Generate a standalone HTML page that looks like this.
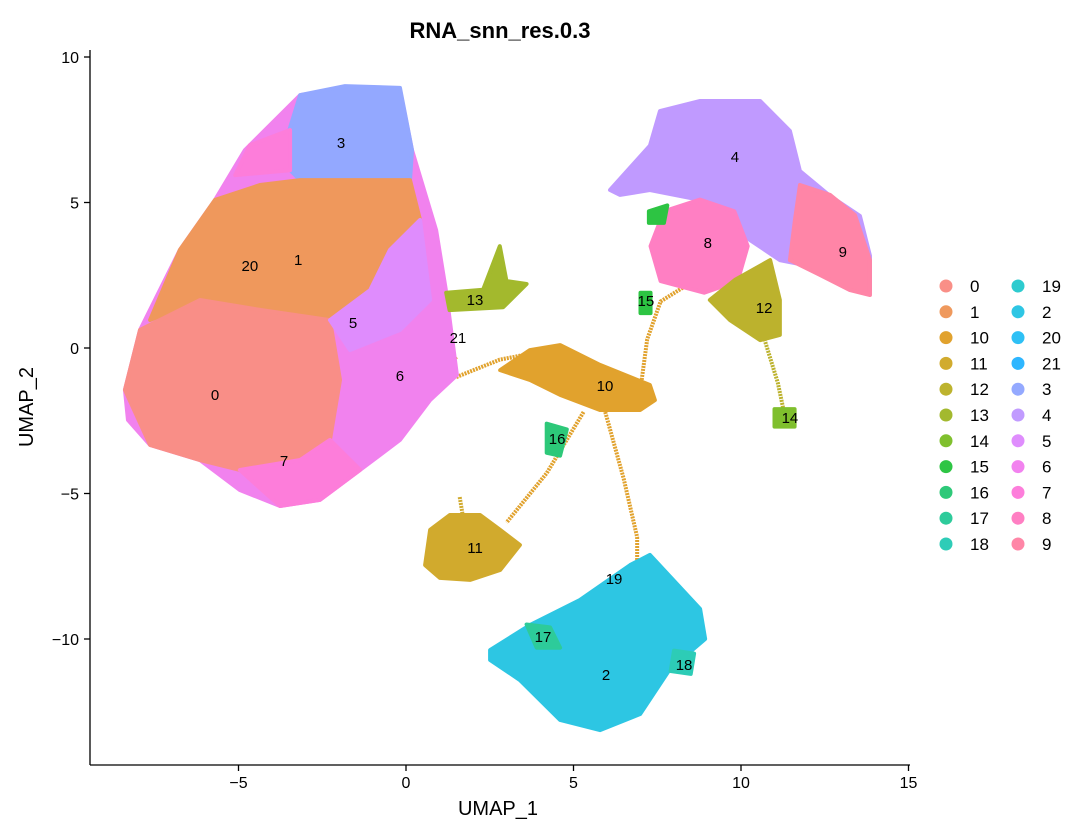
<!DOCTYPE html>
<html><head><meta charset="utf-8">
<style>
html,body{margin:0;padding:0;background:#fff;}
svg{display:block;font-family:"Liberation Sans",Arial,sans-serif;}
</style></head>
<body>
<svg id="chart" width="1080" height="830" viewBox="0 0 1080 830" xmlns="http://www.w3.org/2000/svg">
<text x="500" y="38" text-anchor="middle" font-size="22" font-weight="bold">RNA_snn_res.0.3</text>
<g id="plot"><g id="marks" opacity="0.82"></g></g>
<g id="axes"></g>
<g id="legend"></g>
</svg>
<script>
// ---- data ----
const levels = ["0","1","10","11","12","13","14","15","16","17","18","19","2","20","21","3","4","5","6","7","8","9"];
const xTicks = [-5,0,5,10,15];
const yTicks = [-10,-5,0,5,10];
const regionClusters = ["6","3","1","0","5","7","7","4","9","8","12","10","11","2","13","16","17","18","15","15","14"];
const regionShapes = [
 [[-8.39,-1.44],[-7.94,0.62],[-6.75,3.37],[-5.70,5.09],[-4.81,6.80],[-3.16,8.69],[-1.82,8.93],[-0.18,8.87],[0.18,6.80],[0.90,4.05],[1.19,1.99],[1.52,-0.93],[0.72,-1.79],[-0.18,-3.16],[-1.37,-4.19],[-2.57,-5.22],[-3.76,-5.43],[-4.96,-4.88],[-6.15,-3.85],[-7.64,-3.33],[-8.30,-2.47]],
 [[-3.16,8.69],[-1.82,9.0],[-0.18,8.94],[0.18,6.8],[0.12,5.77],[-1.37,5.6],[-3.16,5.77],[-3.76,6.46]],
 [[-6.75,3.37],[-5.70,5.09],[-4.36,5.6],[-3.16,5.77],[0.12,5.77],[0.42,4.40],[-0.48,3.37],[-1.07,1.99],[-2.27,0.96],[-4.36,1.31],[-6.15,1.65],[-7.64,0.96]],
 [[-8.39,-1.44],[-7.94,0.62],[-6.15,1.65],[-4.36,1.31],[-2.27,0.96],[-1.97,-1.10],[-2.27,-3.16],[-3.16,-3.85],[-4.96,-4.19],[-6.15,-3.85],[-7.64,-3.33]],
 [[-2.27,0.96],[-1.07,1.99],[-0.48,3.37],[0.42,4.40],[0.72,1.65],[-0.18,0.62],[-1.67,-0.07]],
 [[-4.96,-4.19],[-3.16,-3.85],[-2.27,-3.16],[-1.37,-4.19],[-2.57,-5.22],[-3.76,-5.43]],
 [[-5.1,5.94],[-4.66,6.97],[-3.46,7.49],[-3.46,6.11]],
 [[6.09,5.43],[7.28,6.95],[7.58,8.14],[8.78,8.49],[10.57,8.49],[11.46,7.46],[11.76,6.08],[12.66,5.22],[13.55,4.54],[13.85,3.17],[13.85,1.99],[12.66,2.68],[11.16,3.02],[10.27,3.71],[8.78,5.09],[7.28,5.43],[6.39,5.26]],
 [[11.76,5.60],[12.66,5.26],[13.40,4.57],[13.85,3.02],[13.85,1.82],[13.25,1.99],[12.36,2.51],[11.46,3.02],[11.61,4.40]],
 [[8.78,5.1],[9.8,4.7],[10.2,3.5],[9.9,2.3],[8.9,1.9],[7.6,2.3],[7.3,3.5],[7.7,4.7]],
 [[9.82,2.34],[10.87,3.02],[11.16,1.65],[11.16,0.45],[10.57,0.27],[9.67,0.96],[9.07,1.65]],
 [[3.70,-0.07],[4.60,0.10],[5.79,-0.58],[7.28,-1.27],[7.43,-1.79],[6.99,-2.13],[5.79,-2.13],[4.60,-1.61],[3.70,-1.10],[2.81,-0.76]],
 [[0.72,-6.25],[1.31,-5.74],[2.21,-5.74],[2.81,-6.25],[3.40,-6.77],[2.81,-7.63],[1.91,-7.97],[1.01,-7.90],[0.57,-7.46]],
 [[2.51,-10.38],[3.70,-9.52],[5.19,-8.66],[6.69,-7.46],[7.28,-7.11],[8.78,-8.97],[8.93,-10.00],[7.88,-11.03],[6.99,-12.58],[5.79,-13.13],[4.60,-12.78],[3.40,-11.41],[2.51,-10.72]],
 [[1.2,1.9],[2.3,2.0],[2.8,3.5],[3.0,2.3],[3.6,2.2],[2.9,1.4],[1.3,1.3]],
 [[4.2,-2.6],[4.8,-2.8],[4.6,-3.7],[4.2,-3.6]],
 [[3.6,-9.5],[4.3,-9.6],[4.6,-10.3],[3.9,-10.3]],
 [[8.0,-10.4],[8.6,-10.5],[8.5,-11.2],[7.9,-11.1]],
 [[7.25,4.7],[7.8,4.9],[7.7,4.3],[7.25,4.3]],
 [[7.0,1.9],[7.3,1.9],[7.3,1.2],[7.0,1.2]],
 [[11.0,-2.1],[11.6,-2.1],[11.6,-2.7],[11.0,-2.7]]
];
const strandClusters = ["10","10","10","10","10","12","11"];
const strandPaths = [
 [[1.5,-1.0],[2.8,-0.4],[3.7,-0.2]],
 [[7.0,-1.4],[7.2,0.3],[7.6,1.6],[8.3,2.1]],
 [[5.9,-2.0],[6.5,-4.5],[6.9,-6.5],[6.9,-7.3]],
 [[5.3,-2.2],[4.2,-4.3],[3.0,-6.0]],
 [[1.5,-0.4],[0.9,0.5],[1.0,2.3],[0.7,4.6]],
 [[10.7,0.3],[11.1,-1.2],[11.3,-2.3]],
 [[1.7,-5.8],[1.6,-5.1]]
];
const labelNames = ["3","20","1","5","21","6","0","7","13","4","8","9","15","12","10","14","16","11","19","17","18","2"];
const labelX = [-1.94,-4.66,-3.22,-1.58,1.55,-0.18,-5.70,-3.64,2.06,9.82,9.01,13.04,7.16,10.69,5.94,11.46,4.51,2.06,6.21,4.09,8.30,5.97];
const labelY = [7.04,2.82,3.02,0.86,0.34,-0.96,-1.62,-3.88,1.65,6.56,3.61,3.30,1.62,1.37,-1.31,-2.41,-3.13,-6.87,-7.94,-9.93,-10.89,-11.24];

// ---- scales ----
const X0=406, XS=33.5, Y0=348, YS=29.1;
const sx = v => X0 + v*XS;
const sy = v => Y0 - v*YS;

function hcl(h){
  const L=65,C=100,Xn=95.047,Yn=100,Zn=108.883;
  const Y=Yn*Math.pow((L+16)/116,3);
  const u=C*Math.cos(h*Math.PI/180), v=C*Math.sin(h*Math.PI/180);
  const un=4*Xn/(Xn+15*Yn+3*Zn), vn=9*Yn/(Xn+15*Yn+3*Zn);
  const up=u/(13*L)+un, vp=v/(13*L)+vn;
  const X=Y*9*up/(4*vp), Z=Y*(12-3*up-20*vp)/(4*vp);
  const x=X/100,y=Y/100,z=Z/100;
  let r=3.2404542*x-1.5371385*y-0.4985314*z;
  let g=-0.9692660*x+1.8760108*y+0.0415560*z;
  let b=0.0556434*x-0.2040259*y+1.0572252*z;
  const gm=c=>{c=c<=0.0031308?12.92*c:1.055*Math.pow(c,1/2.4)-0.055;return Math.round(Math.max(0,Math.min(1,c))*255);};
  return `rgb(${gm(r)},${gm(g)},${gm(b)})`;
}
const colors={};
levels.forEach((l,i)=>{colors[l]=hcl(15+i*360/22);});

const NS="http://www.w3.org/2000/svg";
const mk=(t,a,p)=>{const e=document.createElementNS(NS,t);for(const k in a)e.setAttribute(k,a[k]);p.appendChild(e);return e;};
const plot=document.getElementById('plot'), marks=document.getElementById('marks'), axes=document.getElementById('axes'), legend=document.getElementById('legend');

strandPaths.forEach((pts,i)=>{
  const e=mk('polyline',{points:pts.map(p=>sx(p[0])+','+sy(p[1])).join(' '),fill:'none',stroke:colors[strandClusters[i]],'stroke-width':4,'stroke-linejoin':'round','stroke-dasharray':'2 1'},marks);
  
  
});
regionShapes.forEach((pts,i)=>{
  const c=colors[regionClusters[i]];
  const e=mk('polygon',{points:pts.map(p=>sx(p[0])+','+sy(p[1])).join(' '),fill:c,stroke:c,'stroke-width':4,'stroke-linejoin':'round'},marks);
  
  
});
labelNames.forEach((n,i)=>{
  const t=mk('text',{x:sx(labelX[i]),y:sy(labelY[i])+5,'text-anchor':'middle','font-size':15,fill:'#000'},plot);
  t.textContent=n;
  
  
});

mk('line',{x1:90,y1:50,x2:90,y2:765,stroke:'#000','stroke-width':1.3},axes);
mk('line',{x1:90,y1:765,x2:910,y2:765,stroke:'#000','stroke-width':1.3},axes);
xTicks.forEach(v=>{
  mk('line',{x1:sx(v),y1:765,x2:sx(v),y2:771,stroke:'#000','stroke-width':1.3},axes);
  const t=mk('text',{x:sx(v),y:788,'text-anchor':'middle','font-size':16,fill:'#000'},axes);
  t.textContent=v<0?'\u2212'+(-v):String(v);
  
  
});
yTicks.forEach(v=>{
  mk('line',{x1:84,y1:sy(v),x2:90,y2:sy(v),stroke:'#000','stroke-width':1.3},axes);
  const t=mk('text',{x:79,y:sy(v)+6,'text-anchor':'end','font-size':16,fill:'#000'},axes);
  t.textContent=v<0?'\u2212'+(-v):String(v);
  
  
});
const xt=mk('text',{x:498,y:815,'text-anchor':'middle','font-size':20,fill:'#000'},axes);
xt.textContent='UMAP_1';


const yt=mk('text',{x:33,y:407,'text-anchor':'middle','font-size':20,fill:'#000',transform:'rotate(-90 33 407)'},axes);
yt.textContent='UMAP_2';



levels.forEach((l,i)=>{
  const col=Math.floor(i/11), row=i%11;
  const cx=col?1018:946, ty=286+row*25.8;
  const g=mk('g',{},legend);
  
  
  mk('circle',{cx:cx,cy:ty,r:6.5,fill:colors[l],opacity:0.82},g);
  const t=mk('text',{x:cx+24,y:ty+6,'font-size':17,fill:'#000'},g);
  t.textContent=l;
});
</script>
</body></html>
